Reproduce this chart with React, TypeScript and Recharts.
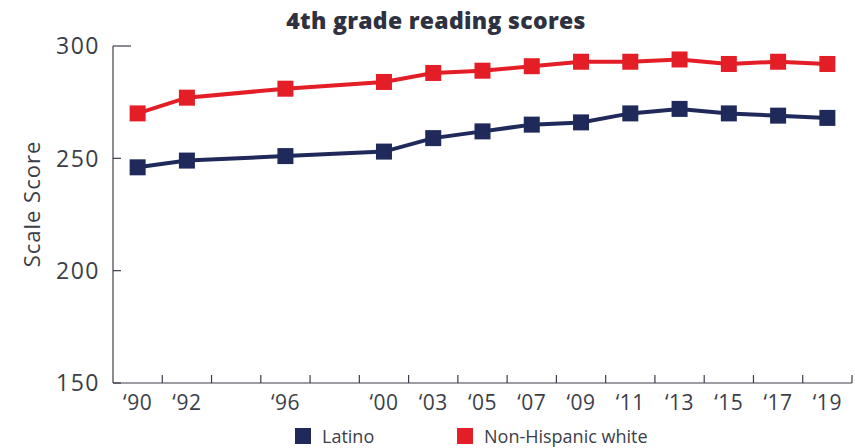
import { LineChart, Line, XAxis, YAxis, Legend } from 'recharts';

// NAEP years; '94 and '98 are empty slots on the axis
const years = ['‘90', '‘92', '', '‘96', '', '‘00', '‘03', '‘05', '‘07', '‘09', '‘11', '‘13', '‘15', '‘17', '‘19'];
const latino = [246, 249, null, 251, null, 253, 259, 262, 265, 266, 270, 272, 270, 269, 268];
const white = [270, 277, null, 281, null, 284, 288, 289, 291, 293, 293, 294, 292, 293, 292];
const yTicks = [150, 200, 250, 300];

const NAVY = '#1f2a5b';
const RED = '#e31e26';
const INK = '#3b3e48';
const FONT = '"Open Sans", Lato, sans-serif';

const W = 855;
const H = 448;
const PLOT_LEFT = 113;
const PLOT_RIGHT = 852;
const BAND = (PLOT_RIGHT - PLOT_LEFT) / years.length;

const data = years.map((y, i) => ({ year: y, key: i, latino: latino[i], white: white[i] }));

function XTick(props: any) {
  const { x, y, payload } = props;
  const base = y - 12;
  return (
    <g>
      <line x1={x + BAND / 2} x2={x + BAND / 2} y1={base} y2={base - 8} stroke={INK} strokeWidth={1.2} />
      <text x={x} y={y} dy="0.72em" textAnchor="middle" fill={INK} fontSize={21} fontFamily={FONT} letterSpacing={0.5}>
        {years[payload.value]}
      </text>
    </g>
  );
}

function YTick(props: any) {
  const { x, y, payload } = props;
  const len = payload.value === 300 ? 18 : 8;
  return (
    <g>
      <line x1={x + 13} x2={x + 13 + len} y1={y} y2={y} stroke={INK} strokeWidth={1.2} />
      <text x={x} y={y} dy="0.36em" textAnchor="end" fill={INK} fontSize={23} fontFamily={FONT} letterSpacing={1.5}>
        {payload.value}
      </text>
    </g>
  );
}

function squareDot(color: string) {
  return (p: any) => {
    if (p.cx == null || p.cy == null || p.value == null) return <g key={p.index} />;
    return <rect key={p.index} x={p.cx - 8} y={p.cy - 8} width={16} height={16} fill={color} />;
  };
}

function LegendContent() {
  const item = (color: string, label: string, w?: number) => (
    <div style={{ display: 'flex', alignItems: 'center', width: w }}>
      <span style={{ width: 16, height: 16, background: color, display: 'inline-block', marginRight: 11 }} />
      <span style={{ fontSize: 18, color: INK, fontFamily: FONT }}>{label}</span>
    </div>
  );
  return (
    <div style={{ height: 25, display: 'flex', alignItems: 'center', paddingLeft: 295 }}>
      {item(NAVY, 'Latino', 162)}
      {item(RED, 'Non-Hispanic white')}
    </div>
  );
}

export default function App() {
  return (
    <div style={{ position: 'absolute', left: 0, top: 0, width: W, height: H, background: '#fff' }}>
      <div
        style={{
          position: 'absolute',
          left: 236,
          top: 4,
          width: 400,
          lineHeight: '32px',
          textAlign: 'center',
          fontFamily: FONT,
          fontWeight: 800,
          fontSize: 23,
          letterSpacing: 0.3,
          color: '#2e3140',
          whiteSpace: 'nowrap',
        }}
      >
        4th grade reading scores
      </div>
      <div
        style={{
          position: 'absolute',
          left: 31 - 100,
          top: 204 - 14,
          width: 200,
          lineHeight: '28px',
          textAlign: 'center',
          transform: 'rotate(-90deg)',
          fontFamily: FONT,
          fontSize: 22,
          letterSpacing: 1,
          color: INK,
        }}
      >
        Scale Score
      </div>
      <LineChart width={W} height={H} data={data} margin={{ top: 46, right: W - PLOT_RIGHT, bottom: 0, left: 0 }}>
        <XAxis
          dataKey="key"
          type="category"
          interval={0}
          height={40}
          padding={{ left: BAND / 2, right: BAND / 2 }}
          tickLine={false}
          tickSize={0}
          tickMargin={12}
          axisLine={{ stroke: INK, strokeWidth: 1.2 }}
          tick={<XTick />}
        />
        <YAxis
          type="number"
          domain={[150, 300]}
          ticks={yTicks}
          width={PLOT_LEFT}
          tickLine={false}
          tickSize={0}
          tickMargin={13}
          axisLine={{ stroke: INK, strokeWidth: 1.2 }}
          tick={<YTick />}
          allowDataOverflow
        />
        <Legend verticalAlign="bottom" height={25} content={<LegendContent />} />
        <Line
          dataKey="latino"
          name="Latino"
          stroke={NAVY}
          strokeWidth={4}
          connectNulls
          dot={squareDot(NAVY)}
          activeDot={false}
          isAnimationActive={false}
        />
        <Line
          dataKey="white"
          name="Non-Hispanic white"
          stroke={RED}
          strokeWidth={4}
          connectNulls
          dot={squareDot(RED)}
          activeDot={false}
          isAnimationActive={false}
        />
      </LineChart>
    </div>
  );
}
